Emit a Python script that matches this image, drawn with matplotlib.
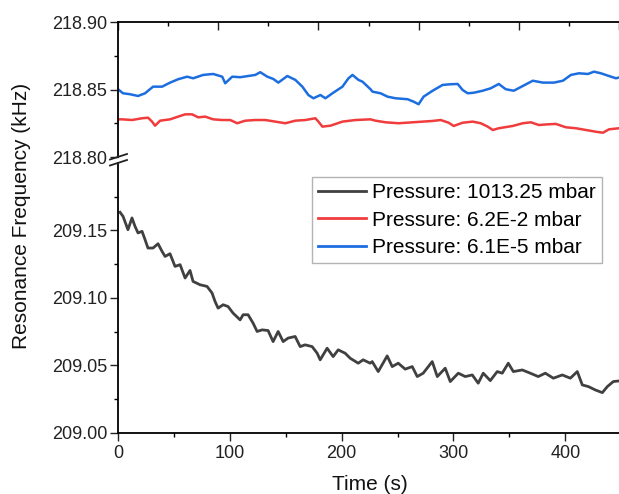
import numpy as np
import matplotlib
matplotlib.use("Agg")
import matplotlib.pyplot as plt
from matplotlib.ticker import MultipleLocator, FixedLocator
from matplotlib.lines import Line2D

plt.rcParams['font.family'] = ['Liberation Sans', 'DejaVu Sans']

# black curve, 1013.25 mbar (lower panel, time in s)
t_atm = [1.8, 4.5, 8.9, 12.5, 15.2, 17.9, 21.5, 24.2, 26.8, 31.3, 35.8, 39.4, 42.1, 46.5,
         51.0, 55.5, 60.0, 64.4, 67.1, 73.4, 79.6, 84.1, 86.8, 89.5, 94.0, 98.4, 102.9,
         109.2, 111.9, 116.3, 120.8, 124.4, 128.9, 134.2, 138.7, 143.2, 147.7, 152.1,
         158.4, 162.9, 167.3, 173.6, 178.1, 180.8, 187.0, 192.4, 196.9, 203.1, 207.6,
         214.8, 219.2, 225.5, 227.3, 232.7, 240.7, 245.2, 250.6, 256.8, 263.1, 267.6,
         272.9, 281.0, 285.5, 292.6, 297.1, 304.3, 310.5, 316.8, 322.1, 326.6, 332.9,
         339.1, 343.6, 349.0, 353.5, 361.5, 368.7, 375.8, 382.1, 389.3, 397.3, 404.5,
         410.7, 415.2, 420.6, 426.8, 433.1, 437.6, 442.9, 448.3]
f_atm = [209.1635, 209.1605, 209.1506, 209.1593, 209.1531, 209.1482, 209.1494, 209.1432,
         209.1370, 209.1370, 209.1402, 209.1345, 209.1308, 209.1328, 209.1234, 209.1247,
         209.1148, 209.1204, 209.1123, 209.1098, 209.1086, 209.1037, 209.0974, 209.0925,
         209.0950, 209.0937, 209.0888, 209.0838, 209.0876, 209.0876, 209.0814, 209.0752,
         209.0764, 209.0759, 209.0677, 209.0752, 209.0677, 209.0703, 209.0715, 209.0640,
         209.0653, 209.0640, 209.0591, 209.0542, 209.0628, 209.0566, 209.0616, 209.0591,
         209.0554, 209.0517, 209.0542, 209.0517, 209.0529, 209.0455, 209.0571, 209.0492,
         209.0517, 209.0473, 209.0492, 209.0418, 209.0443, 209.0529, 209.0418, 209.0480,
         209.0381, 209.0443, 209.0418, 209.0430, 209.0369, 209.0443, 209.0388, 209.0455,
         209.0443, 209.0517, 209.0455, 209.0467, 209.0443, 209.0418, 209.0443, 209.0406,
         209.0430, 209.0406, 209.0455, 209.0356, 209.0344, 209.0319, 209.0299, 209.0344,
         209.0381, 209.0386]

# upper panel (own x scale 0-500)
t_blue = [0, 5, 12, 20, 27, 35, 44, 52, 60, 69, 75, 85, 95, 104, 107, 114, 122, 130, 137,
          142, 149, 155, 160, 169, 177, 184, 190, 195, 202, 207, 214, 224, 230, 234, 240,
          244, 252, 254, 262, 269, 277, 289, 295, 300, 305, 314, 324, 332, 339, 344, 349,
          355, 364, 372, 380, 387, 395, 404, 414, 424, 435, 444, 452, 460, 469, 475, 482,
          490, 497, 501]
f_blue = [218.8502, 218.8472, 218.8465, 218.8452, 218.8472, 218.8521, 218.8521, 218.8551,
          218.8576, 218.8595, 218.8583, 218.8608, 218.8615, 218.8595, 218.8546, 218.8595,
          218.8591, 218.8600, 218.8608, 218.8628, 218.8595, 218.8578, 218.8551, 218.8600,
          218.8571, 218.8521, 218.8459, 218.8435, 218.8459, 218.8435, 218.8472, 218.8521,
          218.8583, 218.8608, 218.8571, 218.8558, 218.8502, 218.8484, 218.8472, 218.8447,
          218.8435, 218.8428, 218.8410, 218.8391, 218.8447, 218.8491, 218.8534, 218.8539,
          218.8541, 218.8496, 218.8472, 218.8476, 218.8491, 218.8509, 218.8541, 218.8502,
          218.8491, 218.8526, 218.8565, 218.8551, 218.8551, 218.8565, 218.8608, 218.8620,
          218.8615, 218.8632, 218.8620, 218.8600, 218.8583, 218.8591]

t_red = [0, 4, 14, 24, 30, 34, 37, 42, 52, 60, 67, 74, 80, 87, 95, 104, 112, 119, 127, 137,
         147, 157, 167, 177, 187, 197, 200, 204, 212, 224, 237, 252, 257, 267, 280, 294, 304,
         314, 322, 330, 335, 344, 354, 362, 369, 374, 380, 394, 404, 412, 420, 429, 437, 447,
         457, 467, 477, 484, 490, 500]
f_red = [218.8279, 218.8279, 218.8274, 218.8287, 218.8291, 218.8262, 218.8232, 218.8269,
         218.8279, 218.8299, 218.8316, 218.8316, 218.8294, 218.8299, 218.8279, 218.8274,
         218.8274, 218.8250, 218.8269, 218.8274, 218.8274, 218.8262, 218.8250, 218.8269,
         218.8274, 218.8287, 218.8262, 218.8225, 218.8232, 218.8262, 218.8274, 218.8279,
         218.8269, 218.8257, 218.8250, 218.8257, 218.8262, 218.8267, 218.8274, 218.8254,
         218.8230, 218.8254, 218.8262, 218.8250, 218.8225, 218.8200, 218.8213, 218.8230,
         218.8250, 218.8257, 218.8237, 218.8242, 218.8245, 218.8220, 218.8213, 218.8200,
         218.8187, 218.8180, 218.8205, 218.8213]

labels = ["Pressure: 1013.25 mbar", "Pressure: 6.2E-2 mbar", "Pressure: 6.1E-5 mbar"]
colors = ["#404040", "#f03c3c", "#1c6ee0"]

W, H = 619, 494
fig = plt.figure(figsize=(W / 100, H / 100), dpi=100)

left = 118 / W
ax_top = fig.add_axes([left, 1 - 157 / H, 1 - left, 135 / H])
ax_bot = fig.add_axes([left, 1 - 433 / H, 1 - left, 270 / H])

ax_top.plot(t_red, f_red, color=colors[1], lw=1.8)
ax_top.plot(t_blue, f_blue, color=colors[2], lw=1.8)
ax_bot.plot(t_atm, f_atm, color=colors[0], lw=2.0)

ax_top.set_xlim(0, 500)
ax_top.set_ylim(218.80, 218.90)
ax_bot.set_xlim(0, 448)
ax_bot.set_ylim(209.00, 209.20)

for ax in (ax_top, ax_bot):
    ax.spines['right'].set_visible(False)
    for s in ax.spines.values():
        s.set_linewidth(1.3)
    ax.tick_params(labelsize=13, width=1.0, colors='#222222')

# upper panel: left axis + top axis with inward ticks
ax_top.spines['bottom'].set_visible(False)
ax_top.yaxis.set_major_locator(FixedLocator([218.80, 218.85, 218.90]))
ax_top.yaxis.set_minor_locator(FixedLocator([218.825, 218.875]))
ax_top.yaxis.set_major_formatter(matplotlib.ticker.FormatStrFormatter('%.2f'))
ax_top.tick_params(axis='y', which='major', direction='out', length=6, pad=2)
ax_top.tick_params(axis='y', which='minor', direction='out', length=3, width=1.0)
ax_top.xaxis.tick_top()
ax_top.xaxis.set_major_locator(MultipleLocator(100))
ax_top.xaxis.set_minor_locator(MultipleLocator(50))
ax_top.tick_params(axis='x', which='major', direction='in', length=6, labeltop=False)
ax_top.tick_params(axis='x', which='minor', direction='in', length=3, width=1.0)

# lower panel
ax_bot.spines['top'].set_visible(False)
ax_bot.yaxis.set_major_locator(FixedLocator([209.00, 209.05, 209.10, 209.15]))
ax_bot.yaxis.set_minor_locator(FixedLocator([209.025, 209.075, 209.125, 209.175]))
ax_bot.yaxis.set_major_formatter(matplotlib.ticker.FormatStrFormatter('%.2f'))
ax_bot.xaxis.set_major_locator(MultipleLocator(100))
ax_bot.xaxis.set_minor_locator(MultipleLocator(50))
ax_bot.tick_params(which='major', direction='out', length=5.5, pad=3)
ax_bot.tick_params(axis='y', which='major', pad=2)
ax_bot.tick_params(which='minor', direction='out', length=3, width=1.0)

# axis break marks
for y0 in (159.5, 165.5):
    fig.add_artist(Line2D([110 / W, 127 / W], [1 - y0 / H, 1 - (y0 - 5.5) / H],
                          transform=fig.transFigure, color='#222222', lw=1.3))

handles = [Line2D([], [], color=c, lw=2.0) for c in colors]
leg = ax_bot.legend(handles, labels, loc='upper right', bbox_to_anchor=(0.966, 0.948),
                    borderaxespad=0, fontsize=15, frameon=True, fancybox=False,
                    edgecolor='#a0a0a0', handlelength=2.3, handletextpad=0.3,
                    labelspacing=0.4, borderpad=0.3)
leg.get_frame().set_linewidth(1.0)

fig.text(22 / W, 1 - 216 / H, "Resonance Frequency (kHz)", rotation=90,
         ha='center', va='center', fontsize=15, color='#111111')
fig.text(370 / W, 1 - 484 / H, "Time (s)", ha='center', va='center',
         fontsize=15, color='#111111')

fig.savefig("out.png", dpi=100)
